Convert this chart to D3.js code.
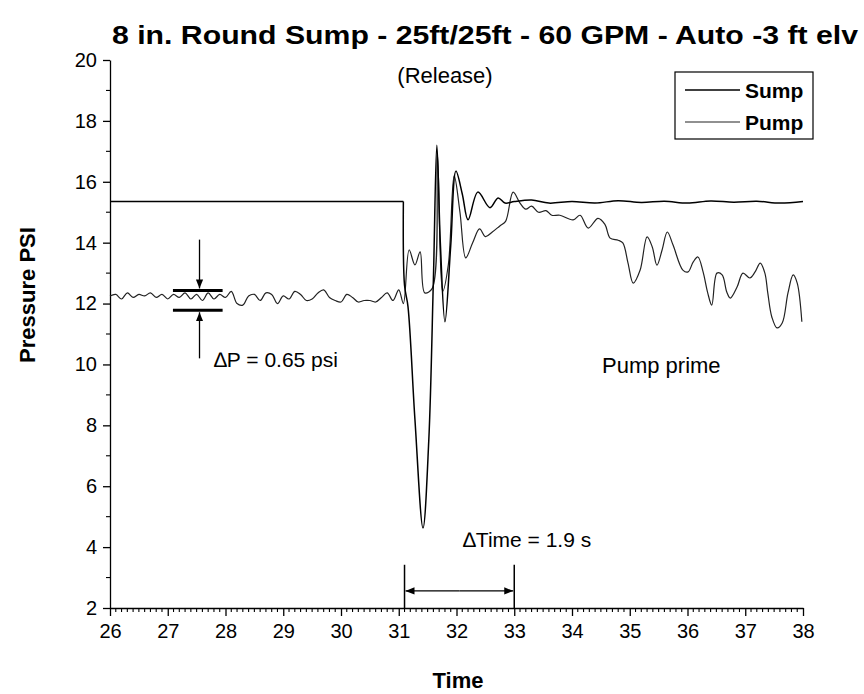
<!DOCTYPE html>
<html>
<head>
<meta charset="utf-8">
<script src="https://cdn.jsdelivr.net/npm/d3@7"></script>
<style>
  body { margin: 0; background: #fff; }
  text { font-family: Arial, "Liberation Sans", sans-serif; fill: #000; }
  .axis path, .axis line { stroke: #000; stroke-width: 1.3; }
  .axis text { font-size: 20px; }
</style>
</head>
<body>
<script>
// chart data
var titleText = "8 in. Round Sump - 25ft/25ft - 60 GPM - Auto -3 ft elv";
var xTicks = [26, 27, 28, 29, 30, 31, 32, 33, 34, 35, 36, 37, 38];
var yTicks = [2, 4, 6, 8, 10, 12, 14, 16, 18, 20];

var sumpTime = [26.0, 31.08, 31.1, 31.16, 31.28, 31.42, 31.52, 31.6, 31.66, 31.72, 31.8, 31.9, 31.99,
  32.1, 32.2, 32.37, 32.58, 32.72, 32.84, 33.0, 33.3, 33.6, 34.0, 34.4, 34.8, 35.2, 35.6, 36.0,
  36.4, 36.8, 37.2, 37.6, 38.0];
var sumpPsi = [15.35, 15.35, 12.6, 11.9, 8.2, 4.63, 7.5, 12.8, 17.2, 14.0, 11.4, 13.9, 16.35,
  15.6, 14.75, 15.66, 15.15, 15.47, 15.3, 15.35, 15.4, 15.3, 15.35, 15.3, 15.38, 15.32, 15.36, 15.3,
  15.37, 15.33, 15.36, 15.3, 15.35];

var pumpTime = [26.0, 26.1, 26.2, 26.3, 26.4, 26.5, 26.6, 26.7, 26.8, 26.9, 27.0, 27.1, 27.2, 27.3,
  27.4, 27.5, 27.6, 27.7, 27.8, 27.9, 28.0, 28.1, 28.2, 28.3, 28.4, 28.5, 28.6, 28.7, 28.8, 28.9,
  29.0, 29.1, 29.2, 29.3, 29.4, 29.5, 29.6, 29.7, 29.8, 29.9, 30.0, 30.1, 30.2, 30.3, 30.4, 30.5,
  30.6, 30.7, 30.8, 30.9, 31.0, 31.08, 31.18, 31.28, 31.37, 31.45, 31.58, 31.67, 31.76, 31.86,
  31.96, 32.06, 32.16, 32.28, 32.4, 32.5, 32.62, 32.75, 32.85, 32.98, 33.1, 33.2, 33.3, 33.42,
  33.55, 33.65, 33.79, 34.02, 34.14, 34.28, 34.45, 34.57, 34.66, 34.8, 34.88, 34.97, 35.06, 35.18,
  35.3, 35.39, 35.47, 35.56, 35.65, 35.75, 35.92, 36.01, 36.1, 36.18, 36.27, 36.35, 36.42, 36.51,
  36.6, 36.68, 36.74, 36.86, 36.96, 37.08, 37.17, 37.26, 37.34, 37.39, 37.46, 37.55, 37.64, 37.74,
  37.83, 37.9, 37.98];
var pumpPsi = [12.25, 12.3, 12.15, 12.35, 12.2, 12.3, 12.25, 12.35, 12.2, 12.3, 12.15, 12.3, 12.2, 12.35,
  12.15, 12.3, 12.1, 12.35, 12.15, 12.3, 12.2, 12.4, 12.0, 11.95, 12.25, 12.3, 12.1, 12.35, 12.3, 12.0,
  12.25, 12.15, 12.4, 12.3, 12.1, 12.15, 12.35, 12.45, 12.2, 12.1, 12.05, 12.3, 12.2, 12.05, 12.1, 12.1,
  12.05, 12.2, 12.35, 12.1, 12.45, 12.0, 13.76, 13.27, 13.7, 12.35, 12.5, 16.9, 12.4, 13.3,
  16.2, 15.0, 13.5, 14.0, 14.45, 14.2, 14.35, 14.55, 14.7, 15.66, 15.3, 15.1, 15.2, 15.0,
  15.05, 14.9, 14.9, 14.75, 14.9, 14.48, 14.8, 14.6, 14.15, 14.08, 13.99, 13.33, 12.67, 13.1,
  14.19, 13.86, 13.26, 13.76, 14.35, 13.92, 13.1, 13.04, 13.37, 13.53, 13.04, 12.35, 11.95, 13.0,
  12.94, 12.38, 12.18, 12.55, 13.0, 12.84, 13.04, 13.33, 13.0, 12.35, 11.56, 11.2, 11.36, 12.35,
  12.94, 12.67, 11.4];

var width = 864, height = 694;

var svg = d3.select("body").append("svg")
    .attr("width", width)
    .attr("height", height);

var x = d3.scaleLinear().domain([26, 38]).range([110, 803]);
var y = d3.scaleLinear().domain([2, 20]).range([608, 60]);

// minor ticks
var xMinor = d3.range(260, 381).map(function(d) { return d / 10; }).filter(function(d) { return xTicks.indexOf(d) < 0; });
var yMinor = d3.range(3, 20, 2);

svg.append("g")
    .attr("class", "x minor")
    .selectAll("line").data(xMinor).enter().append("line")
    .attr("x1", function(d) { return x(d); })
    .attr("x2", function(d) { return x(d); })
    .attr("y1", y(2))
    .attr("y2", y(2) + 4)
    .attr("stroke", "#000")
    .attr("stroke-width", 1.1);

svg.append("g")
    .attr("class", "y minor")
    .selectAll("line").data(yMinor).enter().append("line")
    .attr("x1", x(26) - 4)
    .attr("x2", x(26))
    .attr("y1", function(d) { return y(d); })
    .attr("y2", function(d) { return y(d); })
    .attr("stroke", "#000")
    .attr("stroke-width", 1.1);

var xAxis = d3.axisBottom(x).tickValues(xTicks).tickSize(8).tickPadding(8).tickSizeOuter(0);
var yAxis = d3.axisLeft(y).tickValues(yTicks).tickSize(7).tickPadding(6).tickSizeOuter(0);

svg.append("g")
    .attr("class", "x axis")
    .attr("transform", "translate(0," + y(2) + ")")
    .call(xAxis);

svg.append("g")
    .attr("class", "y axis")
    .attr("transform", "translate(" + x(26) + ",0)")
    .call(yAxis);

// lines
var line = d3.line()
    .x(function(d) { return x(d[0]); })
    .y(function(d) { return y(d[1]); })
    .curve(d3.curveCatmullRom.alpha(0.5));

var sumpData = sumpTime.map(function(t, i) { return [t, sumpPsi[i]]; });
var pumpData = pumpTime.map(function(t, i) { return [t, pumpPsi[i]]; });

svg.append("path")
    .datum(pumpData)
    .attr("d", line)
    .attr("fill", "none")
    .attr("stroke", "#222")
    .attr("stroke-width", 1.2);

svg.append("path")
    .datum(sumpData.slice(0, 2))
    .attr("d", d3.line().x(function(d) { return x(d[0]); }).y(function(d) { return y(d[1]); }))
    .attr("fill", "none")
    .attr("stroke", "#000")
    .attr("stroke-width", 1.6);

svg.append("path")
    .datum(sumpData.slice(1))
    .attr("d", line)
    .attr("fill", "none")
    .attr("stroke", "#000")
    .attr("stroke-width", 1.5);

// titles
svg.append("text")
    .attr("x", 112)
    .attr("y", 44)
    .attr("textLength", 746)
    .attr("lengthAdjust", "spacingAndGlyphs")
    .style("font-size", "26px")
    .style("font-weight", "bold")
    .text(titleText);

svg.append("text")
    .attr("x", 445)
    .attr("y", 83)
    .attr("text-anchor", "middle")
    .style("font-size", "22px")
    .text("(Release)");

svg.append("text")
    .attr("transform", "translate(35," + 295 + ") rotate(-90)")
    .attr("text-anchor", "middle")
    .style("font-size", "22px")
    .style("font-weight", "bold")
    .text("Pressure PSI");

svg.append("text")
    .attr("x", 458)
    .attr("y", 688)
    .attr("text-anchor", "middle")
    .style("font-size", "22px")
    .style("font-weight", "bold")
    .text("Time");

// legend
var legend = svg.append("g").attr("class", "legend");
legend.append("rect")
    .attr("x", 675).attr("y", 72)
    .attr("width", 138).attr("height", 67)
    .attr("fill", "#fff")
    .attr("stroke", "#000")
    .attr("stroke-width", 1.2);
legend.append("line")
    .attr("x1", 685).attr("x2", 740).attr("y1", 90).attr("y2", 90)
    .attr("stroke", "#000").attr("stroke-width", 1.5);
legend.append("line")
    .attr("x1", 685).attr("x2", 740).attr("y1", 122).attr("y2", 122)
    .attr("stroke", "#222").attr("stroke-width", 1.2);
legend.append("text")
    .attr("x", 745).attr("y", 98)
    .style("font-size", "21px").style("font-weight", "bold")
    .text("Sump");
legend.append("text")
    .attr("x", 745).attr("y", 130)
    .style("font-size", "21px").style("font-weight", "bold")
    .text("Pump");

// annotations
var defs = svg.append("defs");
defs.append("marker")
    .attr("id", "arrow")
    .attr("viewBox", "0 0 10 10")
    .attr("refX", 10).attr("refY", 5)
    .attr("markerWidth", 9).attr("markerHeight", 9)
    .attr("markerUnits", "userSpaceOnUse")
    .attr("orient", "auto")
    .append("path")
    .attr("d", "M0,1 L10,5 L0,9 Z")
    .attr("fill", "#000");

var dpTop = 12.43, dpBot = 11.78;
[dpTop, dpBot].forEach(function(v) {
    svg.append("line")
        .attr("x1", x(27.09)).attr("x2", x(27.95))
        .attr("y1", y(v)).attr("y2", y(v))
        .attr("stroke", "#000").attr("stroke-width", 3);
});
svg.append("line")
    .attr("x1", x(27.55)).attr("x2", x(27.55))
    .attr("y1", y(14.1)).attr("y2", y(dpTop) - 2)
    .attr("stroke", "#000").attr("stroke-width", 1.3)
    .attr("marker-end", "url(#arrow)");
svg.append("line")
    .attr("x1", x(27.55)).attr("x2", x(27.55))
    .attr("y1", y(10.2)).attr("y2", y(dpBot) + 2)
    .attr("stroke", "#000").attr("stroke-width", 1.3)
    .attr("marker-end", "url(#arrow)");

svg.append("text")
    .attr("x", 214).attr("y", 367)
    .style("font-size", "21px")
    .text("\u2206P = 0.65 psi");

svg.append("text")
    .attr("x", 602).attr("y", 373)
    .style("font-size", "22px")
    .text("Pump prime");

// delta time bracket
[31.1, 33.0].forEach(function(t) {
    svg.append("line")
        .attr("x1", x(t)).attr("x2", x(t))
        .attr("y1", y(3.42)).attr("y2", y(2))
        .attr("stroke", "#000").attr("stroke-width", 1.5);
});
svg.append("line")
    .attr("x1", x(32.05)).attr("x2", x(31.1) + 1)
    .attr("y1", y(2.56)).attr("y2", y(2.56))
    .attr("stroke", "#000").attr("stroke-width", 1.3)
    .attr("marker-end", "url(#arrow)");
svg.append("line")
    .attr("x1", x(32.05)).attr("x2", x(33.0) - 1)
    .attr("y1", y(2.56)).attr("y2", y(2.56))
    .attr("stroke", "#000").attr("stroke-width", 1.3)
    .attr("marker-end", "url(#arrow)");

svg.append("text")
    .attr("x", 463).attr("y", 547)
    .style("font-size", "21px")
    .text("\u2206Time = 1.9 s");
</script>
</body>
</html>
